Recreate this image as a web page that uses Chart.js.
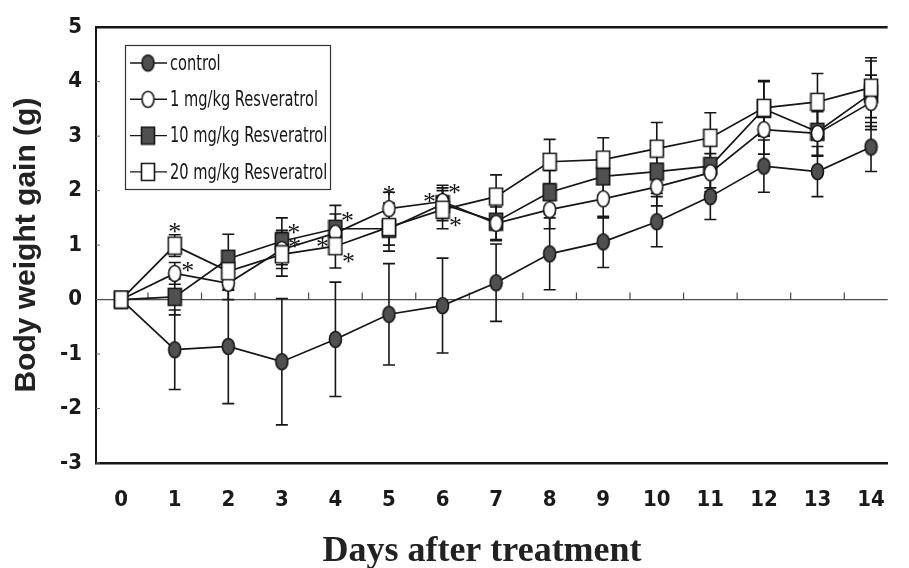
<!DOCTYPE html>
<html>
<head>
<meta charset="utf-8">
<script src="https://cdn.jsdelivr.net/npm/chart.js@4.4.1/dist/chart.umd.min.js"></script>
<style>
    html, body { margin: 0; padding: 0; background: #fff; }
    #wrap { position: relative; width: 909px; height: 568px; }
</style>
</head>
<body>
<div id="wrap"><canvas id="gainChart"></canvas></div>
<script>
// ===== DATA =====
const days = [0, 1, 2, 3, 4, 5, 6, 7, 8, 9, 10, 11, 12, 13, 14];
const yTicks = [-3, -2, -1, 0, 1, 2, 3, 4, 5];
const seriesLabels = ['control', '1 mg/kg Resveratrol', '10 mg/kg Resveratrol', '20 mg/kg Resveratrol'];

const control = [0, -0.92, -0.86, -1.14, -0.73, -0.27, -0.11, 0.31, 0.84, 1.06, 1.43, 1.89, 2.45, 2.35, 2.80];
const mg1     = [0, 0.48, 0.30, 0.92, 1.22, 1.67, 1.80, 1.40, 1.65, 1.85, 2.07, 2.33, 3.12, 3.05, 3.62];
const mg10    = [0, 0.05, 0.75, 1.07, 1.30, 1.30, 1.75, 1.43, 1.97, 2.26, 2.35, 2.45, 3.50, 3.08, 3.78];
const mg20    = [0, 0.99, 0.52, 0.83, 0.98, 1.33, 1.65, 1.89, 2.53, 2.57, 2.77, 2.97, 3.52, 3.63, 3.89];

// standard deviations (error bars)
const controlSd = [0, 0.73, 1.05, 1.16, 1.05, 0.93, 0.87, 0.71, 0.66, 0.47, 0.46, 0.42, 0.48, 0.46, 0.45];
const mg1Sd     = [0, 0.20, 0.30, 0.35, 0.35, 0.30, 0.30, 0.30, 0.35, 0.35, 0.35, 0.35, 0.45, 0.40, 0.50];
const mg10Sd    = [0, 0.33, 0.45, 0.43, 0.43, 0.30, 0.30, 0.35, 0.40, 0.35, 0.40, 0.40, 0.50, 0.45, 0.60];
const mg20Sd    = [0, 0.20, 0.35, 0.40, 0.40, 0.44, 0.35, 0.40, 0.41, 0.40, 0.48, 0.46, 0.50, 0.52, 0.55];

// significance marks: [day, series index, side]
const sigStars = [
    [1, 3, 'above'], [1, 1, 'right'],
    [3, 2, 'upperRight'], [3, 1, 'right'],
    [4, 2, 'upperRight'], [4, 3, 'left'], [4, 3, 'lowerRight'],
    [5, 1, 'above'],
    [6, 1, 'left'], [6, 1, 'upperRight'], [6, 3, 'lowerRight']
];

// ===== MARKERS =====
const DARK = '#505050';
const INK = '#161616';

function makeMarker(shape, fill) {
    const w = shape === 'rect' ? 13 : 12;
    const h = shape === 'rect' ? 17 : 16;
    const c = document.createElement('canvas');
    c.width = w + 3;
    c.height = h + 3;
    const g = c.getContext('2d');
    g.fillStyle = fill;
    g.strokeStyle = INK;
    g.lineWidth = 1.6;
    g.beginPath();
    if (shape === 'rect') {
        g.rect(1.5, 1.5, w, h);
    } else {
        g.ellipse(c.width / 2, c.height / 2, w / 2, h / 2, 0, 0, Math.PI * 2);
    }
    g.fill();
    g.stroke();
    return c;
}

const markers = [
    makeMarker('circle', DARK),
    makeMarker('circle', '#ffffff'),
    makeMarker('rect', DARK),
    makeMarker('rect', '#ffffff')
];
const values = [control, mg1, mg10, mg20];
const sds = [controlSd, mg1Sd, mg10Sd, mg20Sd];
const drawOrder = [3, 1, 2, 0];

const NARROW = "'Liberation Sans Narrow', 'Arial Narrow', 'DejaVu Sans Condensed', sans-serif";

// ===== DECORATION PLUGIN =====
const decorPlugin = {
    id: 'decor',
    beforeDatasetsDraw(chart) {
        const { ctx, chartArea: a, scales: { x, y } } = chart;
        ctx.save();
        // zero line with half-day ticks
        const y0 = y.getPixelForValue(0);
        ctx.strokeStyle = '#4a4a4a';
        ctx.lineWidth = 1.2;
        ctx.beginPath();
        ctx.moveTo(a.left, y0);
        ctx.lineTo(a.right, y0);
        days.slice(0, -1).forEach(d => {
            const px = x.getPixelForValue(d + 0.5);
            ctx.moveTo(px, y0);
            ctx.lineTo(px, y0 - 7);
        });
        ctx.stroke();
        // small inner ticks on the y axis
        ctx.strokeStyle = '#666';
        ctx.lineWidth = 1;
        ctx.beginPath();
        yTicks.forEach(v => {
            const py = y.getPixelForValue(v);
            ctx.moveTo(a.left, py);
            ctx.lineTo(a.left + 4, py);
        });
        ctx.stroke();
        // error bars
        ctx.strokeStyle = INK;
        ctx.lineWidth = 1.6;
        values.forEach((vals, s) => {
            vals.forEach((v, i) => {
                const sd = sds[s][i];
                if (!sd) return;
                const px = x.getPixelForValue(days[i]);
                const top = y.getPixelForValue(v + sd);
                const bot = y.getPixelForValue(v - sd);
                ctx.beginPath();
                ctx.moveTo(px, top);
                ctx.lineTo(px, bot);
                ctx.moveTo(px - 6, top);
                ctx.lineTo(px + 6, top);
                ctx.moveTo(px - 6, bot);
                ctx.lineTo(px + 6, bot);
                ctx.stroke();
            });
        });
        ctx.restore();
    },
    afterDatasetsDraw(chart) {
        const { ctx, chartArea: a, scales: { x, y } } = chart;
        ctx.save();
        // top frame line
        ctx.strokeStyle = INK;
        ctx.lineWidth = 2.5;
        ctx.beginPath();
        ctx.moveTo(a.left - 1, a.top);
        ctx.lineTo(a.right, a.top);
        ctx.stroke();

        // asterisks
        const offsets = {
            above: [0, -19], right: [13, -8], upperRight: [12, -14],
            lowerRight: [13, 10], left: [-13, -5]
        };
        ctx.fillStyle = INK;
        ctx.font = "26px 'Liberation Serif', serif";
        ctx.textAlign = 'center';
        ctx.textBaseline = 'middle';
        sigStars.forEach(([d, s, side]) => {
            const px = x.getPixelForValue(d) + offsets[side][0];
            const py = y.getPixelForValue(values[s][d]) + offsets[side][1];
            ctx.fillText('*', px, py + 7);
        });

        // legend box
        const lx = 125, ly = 45, lw = 205, lh = 144;
        ctx.fillStyle = '#fff';
        ctx.fillRect(lx, ly, lw, lh);
        ctx.strokeStyle = '#333';
        ctx.lineWidth = 1.2;
        ctx.strokeRect(lx + 0.5, ly + 0.5, lw, lh);
        ctx.font = '20px ' + NARROW;
        ctx.textAlign = 'left';
        // squeeze the label text so it reads like a narrow face
        const squeeze = 148 / ctx.measureText(seriesLabels[1]).width;
        seriesLabels.forEach((label, i) => {
            const cy = 63 + i * 36.3;
            ctx.strokeStyle = INK;
            ctx.lineWidth = 1.4;
            ctx.beginPath();
            ctx.moveTo(130, cy);
            ctx.lineTo(167, cy);
            ctx.stroke();
            const m = markers[i];
            ctx.drawImage(m, 148 - m.width / 2, cy - m.height / 2);
            ctx.fillStyle = INK;
            ctx.save();
            ctx.translate(170, cy + 1);
            ctx.scale(Math.min(1, squeeze), 1.08);
            ctx.fillText(label, 0, 0);
            ctx.restore();
        });

        // x axis title
        ctx.font = "bold 36px 'Liberation Serif', 'Times New Roman', serif";
        ctx.textAlign = 'center';
        ctx.textBaseline = 'alphabetic';
        ctx.fillStyle = '#222';
        ctx.fillText('Days after treatment', 482, 561);
        ctx.restore();
    }
};

// ===== CHART =====
function initGainChart() {
    const ctx = document.getElementById('gainChart');

    const datasets = values.map((vals, s) => ({
        label: seriesLabels[s],
        data: days.map((d, i) => ({ x: d, y: vals[i] })),
        borderColor: INK,
        borderWidth: 1.7,
        pointStyle: markers[s],
        pointRadius: 8,
        tension: 0,
        fill: false,
        order: drawOrder[s]
    }));

    new Chart(ctx, {
        type: 'line',
        data: { datasets: datasets },
        options: {
            responsive: true,
            maintainAspectRatio: false,
            animation: false,
            layout: { padding: { top: 27, right: 0, left: 0, bottom: 0 } },
            plugins: {
                legend: { display: false },
                tooltip: { enabled: false }
            },
            scales: {
                x: {
                    type: 'linear',
                    min: -0.47,
                    max: 14.31,
                    grid: { display: false, drawTicks: false },
                    border: { display: true, color: INK, width: 2.5 },
                    afterBuildTicks: function (scale) {
                        scale.ticks = days.map(d => ({ value: d }));
                    },
                    afterFit: function (scale) { scale.height = 105; },
                    ticks: {
                        padding: 24,
                        color: '#1a1a1a',
                        maxRotation: 0,
                        font: { family: NARROW, size: 22, weight: 'bold' }
                    }
                },
                y: {
                    min: -3,
                    max: 5,
                    grid: { display: false, drawTicks: false },
                    border: { display: true, color: INK, width: 2 },
                    afterBuildTicks: function (scale) {
                        scale.ticks = yTicks.map(v => ({ value: v }));
                    },
                    afterFit: function (scale) { scale.width = 96; },
                    ticks: {
                        padding: 14,
                        color: '#1a1a1a',
                        font: { family: NARROW, size: 22, weight: 'bold' }
                    },
                    title: {
                        display: true,
                        text: 'Body weight gain (g)',
                        color: '#222',
                        padding: { top: 12, bottom: 0 },
                        font: { family: "'Liberation Sans', Arial, sans-serif", size: 30, weight: 'bold', lineHeight: 1 }
                    }
                }
            }
        },
        plugins: [decorPlugin]
    });
}

document.addEventListener('DOMContentLoaded', initGainChart);
</script>
</body>
</html>
